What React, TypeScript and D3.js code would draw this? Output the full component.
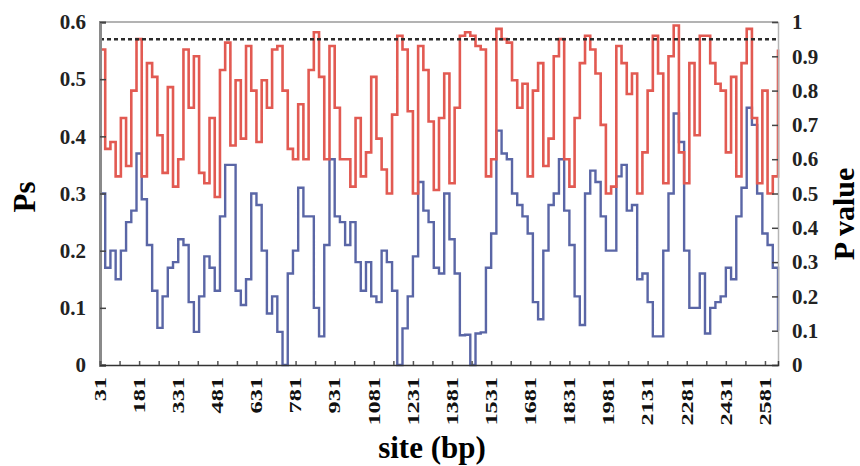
import React, { useRef, useEffect } from 'react';
import * as d3 from 'd3';

// sliding window: first site, window step (bp), last site
const siteStart = 31;
const siteStep = 20;
const siteEnd = 2631;

const siteLabels = [31, 181, 331, 481, 631, 781, 931, 1081, 1231, 1381, 1531, 1681, 1831, 1981, 2131, 2281, 2431, 2581];
const psTicks = [0, 0.1, 0.2, 0.3, 0.4, 0.5, 0.6];
const pTicks = [0, 0.1, 0.2, 0.3, 0.4, 0.5, 0.6, 0.7, 0.8, 0.9, 1];
const pCutoff = 0.95;

// Ps (left axis), one value per window, last entry is the value at the right edge
const psValues = [
    0.3, 0.17, 0.2, 0.15, 0.2, 0.25, 0.27, 0.37, 0.29, 0.21, 0.13, 0.065, 0.12, 0.17, 0.18, 0.22, 0.21,
    0.11, 0.058, 0.12, 0.19, 0.17, 0.13, 0.26, 0.35, 0.35, 0.13, 0.105, 0.15, 0.3, 0.28, 0.2, 0.09,
    0.12, 0.058, 0, 0.16, 0.2, 0.31, 0.26, 0.26, 0.1, 0.05, 0.21, 0.36, 0.26, 0.25, 0.21, 0.25,
    0.18, 0.13, 0.18, 0.12, 0.11, 0.2, 0.18, 0.13, 0, 0.064, 0.12, 0.19, 0.32, 0.27, 0.25, 0.17,
    0.16, 0.3, 0.22, 0.16, 0.052, 0.053, 0, 0.055, 0.057, 0.17, 0.23, 0.41, 0.37, 0.36, 0.3, 0.28, 0.26,
    0.23, 0.11, 0.08, 0.2, 0.28, 0.3, 0.36, 0.27, 0.21, 0.12, 0.07, 0.3, 0.34, 0.32, 0.26, 0.2,
    0.2, 0.33, 0.35, 0.27, 0.28, 0.15, 0.16, 0.11, 0.05, 0.05, 0.2, 0.3, 0.44, 0.39, 0.2, 0.1,
    0.1, 0.16, 0.055, 0.1, 0.11, 0.12, 0.17, 0.15, 0.26, 0.31, 0.45, 0.42, 0.3, 0.23, 0.21, 0.17,
    0.06
];

// P value (right axis)
const pValues = [
    0.92, 0.63, 0.65, 0.55, 0.72, 0.58, 0.8, 0.95, 0.55, 0.88, 0.84, 0.67, 0.56, 0.81, 0.52, 0.6, 0.92,
    0.75, 0.9, 0.56, 0.53, 0.72, 0.49, 0.86, 0.94, 0.64, 0.83, 0.66, 0.93, 0.8, 0.65, 0.83, 0.75,
    0.92, 0.93, 0.8, 0.63, 0.6, 0.76, 0.6, 0.86, 0.97, 0.84, 0.6, 0.93, 0.75, 0.6, 0.6, 0.52,
    0.72, 0.55, 0.62, 0.84, 0.66, 0.57, 0.5, 0.73, 0.96, 0.92, 0.74, 0.5, 0.93, 0.86, 0.71, 0.51,
    0.72, 0.85, 0.53, 0.75, 0.96, 0.97, 0.96, 0.93, 0.92, 0.55, 0.6, 0.98, 0.95, 0.94, 0.83, 0.75, 0.82,
    0.55, 0.8, 0.88, 0.58, 0.66, 0.9, 0.95, 0.6, 0.52, 0.72, 0.88, 0.96, 0.92, 0.85, 0.7, 0.5,
    0.52, 0.93, 0.88, 0.79, 0.85, 0.5, 0.62, 0.8, 0.96, 0.85, 0.53, 0.9, 0.99, 0.62, 0.53, 0.88,
    0.67, 0.96, 0.96, 0.88, 0.82, 0.8, 0.62, 0.84, 0.55, 0.88, 0.98, 0.72, 0.53, 0.8, 0.5, 0.55,
    0.92
];

const font = '"Liberation Serif", "Times New Roman", serif';

const SiteChart = () => {
    const ref = useRef<SVGSVGElement>(null);

    useEffect(() => {
        d3.select(ref.current).selectAll("*").remove();

        const width = 860, height = 466;
        const left = 100, right = 778, top = 22, bottom = 365;

        const svg = d3.select(ref.current)
            .attr("width", width)
            .attr("height", height)
            .style("font-family", font);

        const x = d3.scaleLinear().domain([siteStart, siteEnd]).range([left, right]);
        const yPs = d3.scaleLinear().domain([0, 0.6]).range([bottom, top]);
        const yP = d3.scaleLinear().domain([0, 1]).range([bottom, top]);

        const psLine = d3.line<number>()
            .x((d, i) => x(siteStart + i * siteStep))
            .y(d => yPs(d))
            .curve(d3.curveStepAfter);

        const pLine = d3.line<number>()
            .x((d, i) => x(siteStart + i * siteStep))
            .y(d => yP(d))
            .curve(d3.curveStepAfter);

        // frame
        svg.append("line")
            .attr("x1", left).attr("x2", right).attr("y1", top).attr("y2", top)
            .attr("stroke", "#9a9a9a").attr("stroke-width", 1.5);

        svg.append("path")
            .datum(psValues)
            .attr("fill", "none")
            .attr("stroke", "#5a66a6")
            .attr("stroke-width", 2.4)
            .attr("d", psLine);

        svg.append("path")
            .datum(pValues)
            .attr("fill", "none")
            .attr("stroke", "#e25a52")
            .attr("stroke-width", 2.6)
            .attr("d", pLine);

        // 0.95 cutoff
        svg.append("line")
            .attr("x1", left).attr("x2", right)
            .attr("y1", yP(pCutoff)).attr("y2", yP(pCutoff))
            .attr("stroke", "#2b2b2b")
            .attr("stroke-width", 2.5)
            .attr("stroke-dasharray", "4, 3");

        // left axis
        const leftAxis = svg.append("g")
            .attr("transform", `translate(${left}, 0)`)
            .call(d3.axisLeft(yPs).tickValues(psTicks).tickSize(-6).tickPadding(14).tickFormat(d => String(d)));
        leftAxis.select(".domain").attr("stroke", "#8a8a8a").attr("stroke-width", 3);
        leftAxis.selectAll(".tick line").attr("stroke", "#444").attr("stroke-width", 1.5);
        leftAxis.selectAll("text")
            .attr("font-family", font).attr("font-size", 21).attr("font-weight", "bold").attr("fill", "#222");

        // right axis
        const rightAxis = svg.append("g")
            .attr("transform", `translate(${right}, 0)`)
            .call(d3.axisRight(yP).tickValues(pTicks).tickSize(-6).tickPadding(14).tickFormat(d => String(d)));
        rightAxis.select(".domain").attr("stroke", "#b5b5b5").attr("stroke-width", 1.5);
        rightAxis.selectAll(".tick line").attr("stroke", "#444").attr("stroke-width", 1.5);
        rightAxis.selectAll("text")
            .attr("font-family", font).attr("font-size", 21).attr("font-weight", "bold").attr("fill", "#222");

        // bottom axis, minor ticks every 75 bp
        const bottomAxis = svg.append("g")
            .attr("transform", `translate(0, ${bottom})`)
            .call(d3.axisBottom(x).tickValues(d3.range(siteStart, siteEnd, 75)).tickSize(-4).tickFormat(() => ""));
        bottomAxis.select(".domain").attr("stroke", "#333").attr("stroke-width", 1.5);
        bottomAxis.selectAll(".tick line").attr("stroke", "#555").attr("stroke-width", 1.5);

        svg.append("g")
            .selectAll("text")
            .data(siteLabels)
            .join("text")
            .attr("transform", d => `translate(${x(d)}, 377) rotate(-90) scale(1.28, 0.92)`)
            .attr("text-anchor", "end")
            .attr("dominant-baseline", "central")
            .attr("font-size", 19)
            .attr("font-weight", "bold")
            .attr("fill", "#111")
            .text(d => d);

        // titles
        svg.append("text")
            .attr("transform", "translate(35, 197) rotate(-90)")
            .attr("text-anchor", "middle")
            .attr("font-size", 31).attr("font-weight", "bold")
            .text("Ps");

        svg.append("text")
            .attr("transform", "translate(854, 214) rotate(-90)")
            .attr("text-anchor", "middle")
            .attr("font-size", 30).attr("font-weight", "bold")
            .text("P value");

        svg.append("text")
            .attr("x", 432).attr("y", 458)
            .attr("text-anchor", "middle")
            .attr("font-size", 31).attr("font-weight", "bold")
            .text("site (bp)");
    }, []);

    return <svg ref={ref} style={{ position: 'absolute', left: 0, top: 0 }} />;
};

export default function App() {
    return <SiteChart />;
}
